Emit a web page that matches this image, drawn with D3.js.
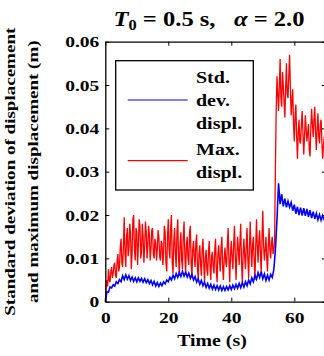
<!DOCTYPE html>
<html lang="en">
<head>
<meta charset="UTF-8">
<title>Displacement</title>
<style>
  body { margin: 0; background: #fff; }
</style>
</head>
<body>
<svg width="324" height="356"></svg>
<script src="https://d3js.org/d3.v7.min.js"></script>
<script>
// values, in mm (x 0.001 m)
// max displacement: one every 0.25 s from 0 to 70 s (20 values = 5 s per row)
const maxDispl = [
  0, 3, 5, 3.5, 7.5, 5, 4.5, 7, 8, 5.5, 6.5, 8.5, 9, 6, 5.5, 9.5, 11, 7, 8, 12.5,
  14.5, 9, 8, 13, 19.5, 11, 8, 15, 17, 10.5, 12, 18, 16, 7.5, 11, 19, 20, 12, 9.5, 17,
  16, 8.5, 13, 19, 17.5, 10, 11.5, 18, 15, 9, 12.5, 18.5, 16, 10, 13, 17.5, 15.5, 9.5, 12, 16.5,
  17, 11, 10, 14.5, 13.5, 9.5, 12, 16.5, 15, 10.5, 9.5, 14, 13.5, 8.5, 11, 17.5, 16, 9, 7, 15,
  19, 12, 10, 17, 20, 9, 6.5, 14, 17, 11, 8, 16, 19, 10, 6, 13.5, 16, 9.5, 7.5, 15,
  18.5, 11, 6.5, 13, 15, 10, 8.5, 16, 17.5, 9, 5.5, 12, 14, 10.5, 8, 13.5, 15.5, 8, 5, 11,
  13, 8.5, 6, 12, 14.5, 9, 4.5, 10, 12, 7.5, 6, 11.5, 14, 8, 5, 10.5, 11.5, 8, 6.5, 12,
  14.5, 7, 4.5, 11, 13, 9.5, 7, 12.5, 15, 8, 5, 10, 12.5, 9, 8, 13.5, 17, 9.5, 4.5, 11,
  14, 10, 7.5, 13, 17.5, 11, 5, 10.5, 15, 12, 8.5, 14, 18, 9, 4.5, 11, 14.5, 10.5, 7.5, 13,
  17, 10, 5.5, 12, 18.5, 12.5, 8, 13, 15, 9.5, 5, 12.5, 19, 13, 9, 14, 16.5, 11, 6.5, 15,
  21, 13, 9.5, 12, 15, 10, 7, 13, 17, 12, 10, 13.5, 15, 11, 12, 14, 31, 44, 52, 48,
  44, 50, 56, 47, 45, 53, 50, 46, 42.5, 49, 55, 48, 47, 52, 57, 50, 43, 46, 49, 41,
  37, 43, 45.5, 38, 33, 39, 42, 37, 36.5, 41, 44, 39, 34, 38, 43, 40, 37, 39, 41, 35,
  33.5, 40, 44.5, 41, 38, 42, 45, 39, 35, 40, 43.5, 38, 36.5, 41, 42, 37, 33, 36, 38, 35,
  34
];
// standard deviation: one every 0.5 s from 0 to 70 s
const stdDispl = [
  0, 2.2, 2.2, 3.4, 3.2, 3.9, 3.6, 4.6, 4.2, 5.1,
  4.6, 6, 5.1, 6.2, 5.2, 6, 4.9, 5.7, 4.7, 5.5,
  4.6, 5.5, 4.7, 5.4, 4.5, 5.3, 4.4, 5.1, 4.2, 4.9,
  3.9, 4.7, 3.6, 4.4, 3.5, 4.3, 3.7, 4.6, 4.1, 5,
  4.6, 5.6, 5, 6.1, 5.3, 6.5, 5.6, 6.8, 5.8, 7,
  5.9, 6.8, 5.7, 6.6, 5.4, 6.3, 5, 5.8, 4.5, 5.3,
  4, 4.9, 3.7, 4.5, 3.3, 4.2, 3.1, 4, 2.9, 3.8,
  2.8, 3.7, 2.7, 3.6, 2.6, 3.5, 2.6, 3.5, 2.7, 3.7,
  2.8, 3.8, 3, 4, 3.1, 4.2, 3.2, 4.4, 3.4, 4.6,
  3.7, 5, 4.1, 5.5, 4.6, 6.1, 5.2, 6.7, 5.6, 6.9,
  5.3, 6.4, 4.9, 6.1, 5, 6.3, 5.6, 7.4,
  12, 19, 27.3, 22.5, 24.8, 22, 23.8, 21.8, 23.2, 21.8,
  22.9, 21, 22.4, 20.3, 21.9, 20, 21.7, 19.9, 21.6, 19.8,
  21.4, 19.6, 21.1, 19.3, 20.8, 19.1, 20.4, 18.9, 20.1, 18.8,
  19.9, 18.9, 19.4
];
const maxTimes = d3.range(0, 70.001, 0.25);
const stdTimes = d3.range(0, 70.001, 0.5);
const xTicks = [0, 20, 40, 60];
const yTicks = [0, 0.01, 0.02, 0.03, 0.04, 0.05, 0.06];
const legendLabels = [["Std.", "dev.", "displ."], ["Max.", "displ."]];

const FONT = '"Liberation Serif", "Times New Roman", Times, serif';
const svg = d3.select("svg");
const pLeft = 105.3, pRight = 325.8, pTop = 41.7, pBottom = 301.7;

const x = d3.scaleLinear().domain([0, 70]).range([pLeft, pRight]);
const y = d3.scaleLinear().domain([0, 0.06]).range([pBottom, pTop]);

// series
const lineOn = times => d3.line()
  .x((d, i) => x(times[i]))
  .y(d => y(d / 1000));

svg.append("path")
  .datum(maxDispl)
  .attr("d", lineOn(maxTimes))
  .attr("fill", "none")
  .attr("stroke", "#ff0000")
  .attr("stroke-width", 1.3);

svg.append("path")
  .datum(stdDispl)
  .attr("d", lineOn(stdTimes))
  .attr("fill", "none")
  .attr("stroke", "#0000ff")
  .attr("stroke-width", 1.6);

// axes box with inward ticks
const xAxis = svg.append("g")
  .attr("transform", `translate(0,${pBottom})`)
  .call(d3.axisBottom(x).tickValues(xTicks).tickSize(-4).tickSizeOuter(0).tickFormat(d3.format("d")));
xAxis.selectAll("text")
  .attr("y", 21.3).attr("dy", 0)
  .attr("transform", "scale(1.3,1)")
  .style("font-size", "15px");

const yAxis = svg.append("g")
  .attr("transform", `translate(${pLeft},0)`)
  .call(d3.axisLeft(y).tickValues(yTicks).tickSize(-4).tickSizeOuter(0)
    .tickFormat(d => d === 0 ? "0" : d3.format(".2f")(d)));
yAxis.selectAll("text")
  .attr("x", -4.6).attr("dy", "0.34em")
  .attr("transform", "scale(1.3,1)")
  .style("font-size", "15px");

svg.append("g")
  .attr("transform", `translate(0,${pTop})`)
  .call(d3.axisTop(x).tickValues(xTicks).tickSize(-4).tickSizeOuter(0).tickFormat(""));
svg.append("g")
  .attr("transform", `translate(${pRight},0)`)
  .call(d3.axisRight(y).tickValues(yTicks).tickSize(-4).tickSizeOuter(0).tickFormat(""));

svg.selectAll(".domain").attr("stroke", "#000").attr("stroke-width", 1.3);
svg.selectAll(".tick line").attr("stroke", "#000");

// title
const title = svg.append("text")
  .attr("transform", "translate(209,26) scale(1.17,1)")
  .attr("text-anchor", "middle")
  .style("font-size", "21px")
  .style("white-space", "pre");
title.append("tspan").style("font-style", "italic").text("T");
title.append("tspan").attr("baseline-shift", "-25%").style("font-size", "14px").text("0");
title.append("tspan").text(" = 0.5 s,   ");
title.append("tspan").style("font-style", "italic").text("\u03b1");
title.append("tspan").text(" = 2.0");

// x label
svg.append("text")
  .attr("transform", "translate(212,346) scale(1.24,1)")
  .attr("text-anchor", "middle")
  .style("font-size", "16px")
  .text("Time (s)");

// y label, two lines
[["Standard deviation of displacement", 15], ["and maximum displacement (m)", 37.5]].forEach(([t, bx]) => {
  svg.append("text")
    .attr("transform", `translate(${bx},${(pTop + pBottom) / 2}) rotate(-90) scale(1.27,1)`)
    .attr("text-anchor", "middle")
    .style("font-size", "15px")
    .text(t);
});

// legend
const lg = svg.append("g");
lg.append("rect")
  .attr("x", 115.7).attr("y", 60.7).attr("width", 137.6).attr("height", 129.3)
  .attr("fill", "#fff").attr("stroke", "#000").attr("stroke-width", 1.3);
[["#0000ff", 100], ["#ff0000", 160.7]].forEach(([c, ly]) => {
  lg.append("line")
    .attr("x1", 127.7).attr("x2", 187.7).attr("y1", ly).attr("y2", ly)
    .attr("stroke", c).attr("stroke-width", 1.2);
});
const legendBase = [[83, 106, 128.5], [155, 178]];
legendLabels.forEach((lines, k) => {
  lines.forEach((t, j) => {
    lg.append("text")
      .attr("transform", `translate(196,${legendBase[k][j]}) scale(1.25,1)`)
      .style("font-size", "16px")
      .text(t);
  });
});

// every text in bold serif
svg.selectAll("g").attr("font-family", null).attr("font-size", null);
svg.selectAll("text")
  .style("font-family", FONT)
  .style("font-weight", "bold")
  .attr("fill", "#000");
</script>
</body>
</html>
